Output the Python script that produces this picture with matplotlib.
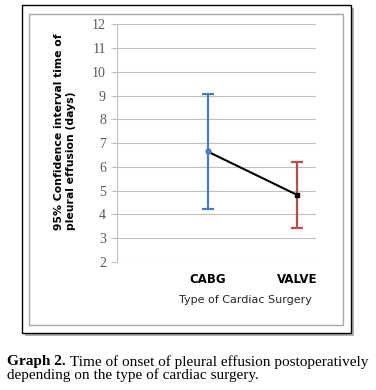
import matplotlib
matplotlib.use("Agg")
import matplotlib.pyplot as plt
from matplotlib.patches import Rectangle

# data
categories = ["CABG", "VALVE"]
means = [6.65, 4.82]
upper = [9.05, 6.2]
lower = [4.24, 3.42]
bar_colours = ["#4a7ebb", "#be4b48"]
yticks = list(range(2, 13))

W, H = 376, 390
fig = plt.figure(figsize=(W / 100, H / 100), dpi=100)


def fx(px):
    return px / W


def fy(py):
    return 1 - py / H


# outer frame with a soft shadow, inner grey frame
fig.patches.append(Rectangle((fx(25), fy(336)), fx(329), fy(8) - fy(336),
                             transform=fig.transFigure, facecolor="#b0b0b0",
                             edgecolor="none", zorder=0))
fig.patches.append(Rectangle((fx(22), fy(333)), fx(329), fy(5) - fy(333),
                             transform=fig.transFigure, facecolor="white",
                             edgecolor="black", lw=1.0, zorder=1))
fig.patches.append(Rectangle((fx(29), fy(325)), fx(314), fy(14) - fy(325),
                             transform=fig.transFigure, facecolor="none",
                             edgecolor="#a6a6a6", lw=1.0, zorder=2))

ax = fig.add_axes([fx(117), fy(262), fx(316) - fx(117), fy(24.3) - fy(262)])
ax.set_zorder(5)
ax.set_facecolor("none")
x = list(range(len(categories)))
ax.set_xlim(-1.01, 1.21)
ax.set_ylim(2, 12)

for i in x:
    ax.errorbar(i, means[i], yerr=[[means[i] - lower[i]], [upper[i] - means[i]]],
                fmt="none", ecolor=bar_colours[i], elinewidth=1.6, capsize=4,
                capthick=1.6, zorder=3)
ax.plot(x, means, color="black", lw=1.5, zorder=4)
ax.plot(x[:1], means[:1], "o", color=bar_colours[0], ms=3.5, zorder=5)
ax.plot(x[1:], means[1:], "s", color="black", ms=2.5, zorder=5)

ax.set_yticks(yticks)
ax.set_yticklabels([str(t) for t in yticks], family="Liberation Serif",
                   fontsize=10, color="#595959")
ax.yaxis.grid(True, color="#bfbfbf", lw=0.8)
ax.set_axisbelow(True)
ax.tick_params(axis="y", length=4, color="#bfbfbf", pad=4)
ax.set_xticks(x)
ax.set_xticklabels(categories, fontweight="bold", fontsize=8.5, family="DejaVu Sans")
ax.tick_params(axis="x", length=0, pad=8)
for side in ("top", "right", "bottom"):
    ax.spines[side].set_visible(False)
ax.spines["left"].set_color("#bfbfbf")

fig.text(fx(65), fy(230), "95% Confidence interval time of\npleural effusion (days)",
         rotation=90, ha="center", va="bottom", fontweight="bold", fontsize=7.8,
         linespacing=1.35, multialignment="left", zorder=6)
fig.text(fx(245), fy(300), "Type of Cardiac Surgery", ha="center", va="center",
         fontsize=8, color="#262626", zorder=6)

cap = fig.text(fx(7), fy(362), "Graph 2. ", ha="left", va="center",
               family="Liberation Serif", fontsize=11, fontweight="bold")
bb = cap.get_window_extent(renderer=fig.canvas.get_renderer())
fig.text(bb.x1 / W + fx(1), fy(362), "Time of onset of pleural effusion postoperatively",
         ha="left", va="center", family="Liberation Serif", fontsize=11)
fig.text(fx(7), fy(375), "depending on the type of cardiac surgery.",
         ha="left", va="center", family="Liberation Serif", fontsize=11)

fig.savefig("out.png", dpi=100)
